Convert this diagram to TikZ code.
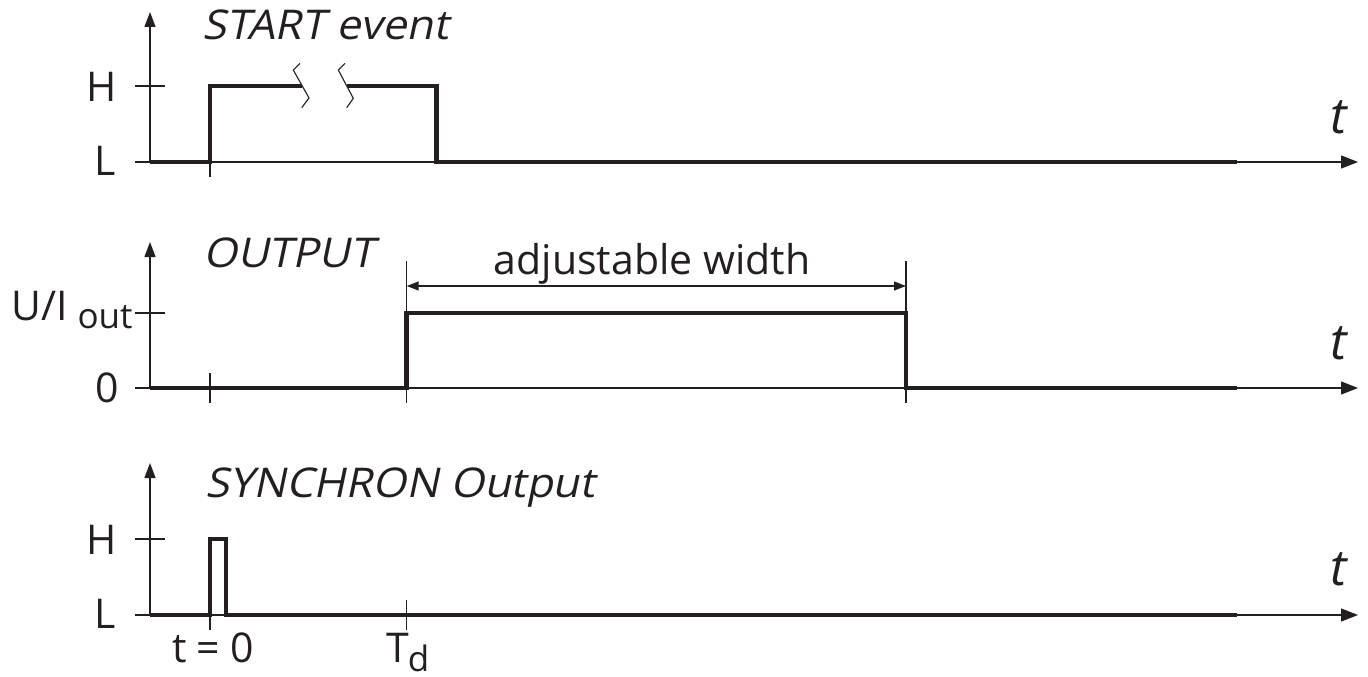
\documentclass[tikz,border=0pt]{standalone}
\usepackage{fontspec}
\setmainfont{Open Sans}
\newfontfamily\obliquefont{Open Sans}[FakeSlant=0.21,FakeStretch=1.06]
\usetikzlibrary{arrows.meta}
\definecolor{ink}{HTML}{231F20}
\tikzset{
  thinline/.style={draw=ink, line width=1.3pt},
  sigline/.style={draw=ink, line width=4.8pt, line join=miter, line cap=butt},
  yaxis/.style={thinline, -{Triangle[length=15pt,width=11pt]}},
  taxis/.style={thinline, -{Triangle[length=17pt,width=13pt]}},
  dimline/.style={thinline, {Triangle[length=12pt,width=9pt]}-{Triangle[length=12pt,width=9pt]}},
  lbl/.style={inner sep=0pt, text=ink, font=\fontsize{41}{46}\selectfont},
  ttl/.style={lbl, anchor=base west, font=\fontsize{41}{46}\obliquefont},
  bigt/.style={inner sep=0pt, text=ink, anchor=base west, font=\fontsize{50}{56}\itshape},
}
\begin{document}
\begin{tikzpicture}[x=1pt,y=-1pt]
\useasboundingbox (0,0) rectangle (1368,677);

% ---------------- Panel 1: START event ----------------
\coordinate (o1) at (150,162);
\coordinate (a1) at (150,12);
\coordinate (t1s) at (135,162);
\coordinate (t1e) at (1358,162);
\draw[yaxis] (o1) -- (a1);
\draw[taxis] (t1s) -- (t1e);
\draw[thinline] (135,86) -- (165,86);
\draw[thinline] (210,162) -- (210,177);
\draw[sigline] (150,162) -- (210,162) -- (210,86) -- (302.3,86);
\draw[sigline] (346.8,86) -- (436.7,86) -- (436.7,162) -- (1237,162);
\draw[thinline, line width=1.1pt] (300,63.3) -- (293.3,70) -- (309,98) -- (301.7,107.7);
\draw[thinline, line width=1.1pt] (345,63.3) -- (338.3,70) -- (353.3,98.3) -- (346.7,107.7);
\node[ttl] (n1) at (202,40) {START event};
\node[lbl, anchor=base east] (h1) at (117,101) {H};
\node[lbl, anchor=base east] (l1) at (116,175) {L};
\node[bigt] (tt1) at (1330,133) {t};

% ---------------- Panel 2: OUTPUT ----------------
\coordinate (o2) at (150,388);
\coordinate (a2) at (150,242);
\coordinate (t2s) at (135,388);
\coordinate (t2e) at (1358,388);
\draw[yaxis] (o2) -- (a2);
\draw[taxis] (t2s) -- (t2e);
\draw[thinline] (135,313) -- (165,313);
\draw[thinline] (210,373) -- (210,403);
\draw[thinline] (406.7,261) -- (406.7,403);
\draw[thinline] (906,261) -- (906,403);
\coordinate (dl) at (406.7,286);
\coordinate (dr) at (906,286);
\draw[dimline] (dl) -- (dr);
\draw[sigline] (150,388) -- (406.7,388) -- (406.7,313) -- (906,313) -- (906,388) -- (1237,388);
\node[ttl] (n2) at (203,267) {OUTPUT};
\node[lbl, anchor=base] (aw) at (652,274) {adjustable width};
\node[lbl, anchor=base west] (ui) at (11,320) {U/I\hspace{10pt}\raisebox{-8pt}{\fontsize{35}{40}\selectfont out}};
\node[lbl, anchor=base east] (z2) at (119,402) {0};
\node[bigt] (tt2) at (1330,359) {t};

% ---------------- Panel 3: SYNCHRON Output ----------------
\coordinate (o3) at (150,615);
\coordinate (a3) at (150,463);
\coordinate (t3s) at (135,615);
\coordinate (t3e) at (1358,615);
\draw[yaxis] (o3) -- (a3);
\draw[taxis] (t3s) -- (t3e);
\draw[thinline] (135,539) -- (165,539);
\draw[thinline] (210,615) -- (210,630);
\draw[thinline] (406.7,600) -- (406.7,630);
\draw[sigline] (150,615) -- (210,615) -- (210,539) -- (226,539) -- (226,615) -- (1237,615);
\node[ttl] (n3) at (205,497) {SYNCHRON Output};
\node[lbl, anchor=base east] (h3) at (117,554) {H};
\node[lbl, anchor=base east] (l3) at (116,628) {L};
\node[lbl, anchor=base west] (t0) at (172,662) {t\hspace{10pt}=\hspace{10pt}0};
\node[lbl, anchor=base west] (td) at (386,662) {T\hspace{-1pt}\raisebox{-9pt}{\fontsize{35}{40}\selectfont d}};
\node[bigt] (tt3) at (1330,585) {t};
\end{tikzpicture}
\end{document}
